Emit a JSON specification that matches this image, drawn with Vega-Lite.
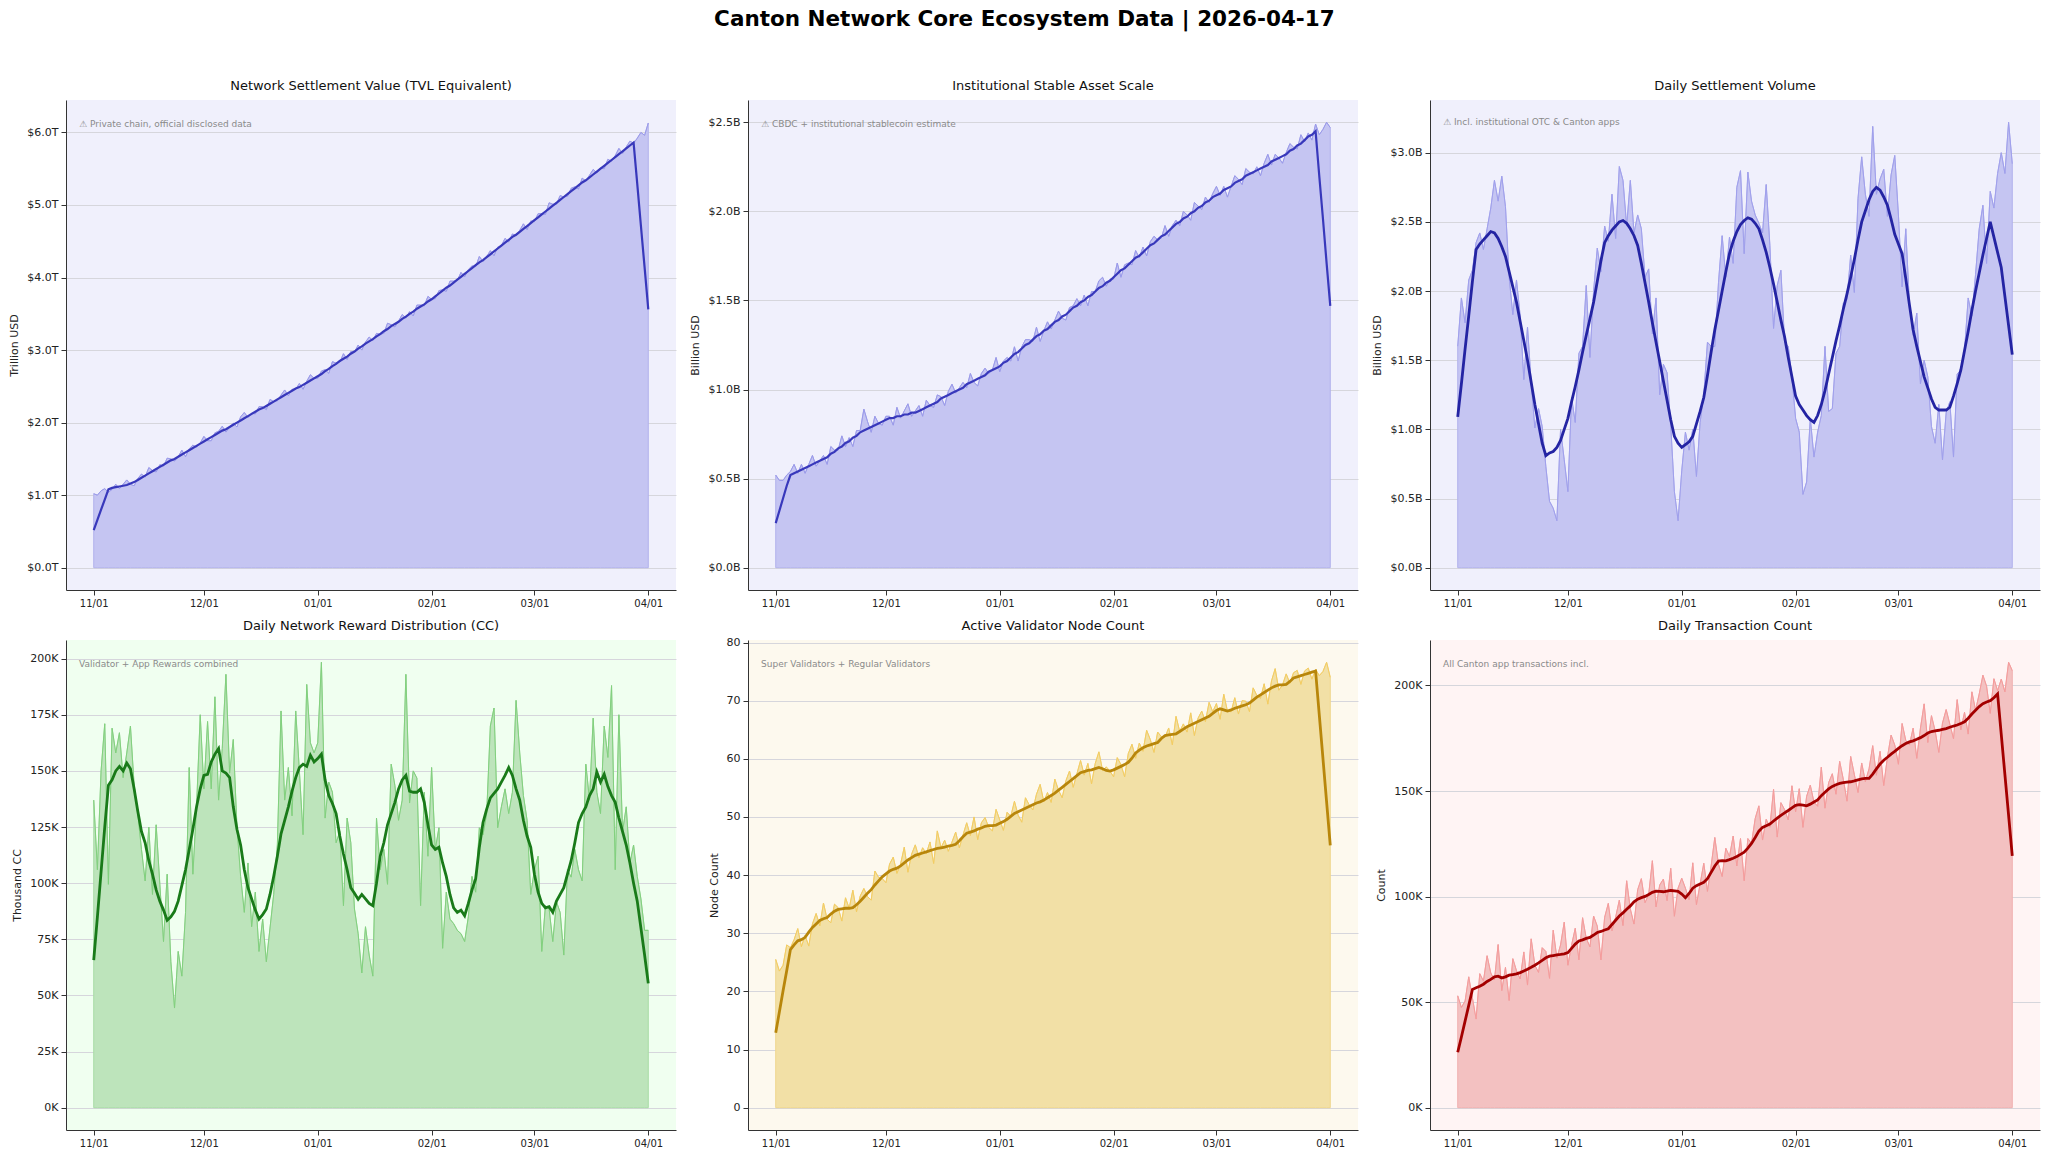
{
  "$schema": "https://vega.github.io/schema/vega-lite/v6.json",
  "background": "white",
  "padding": {"left": 8, "top": 8, "right": 4, "bottom": 5},
  "title": {"text": "Canton Network Core Ecosystem Data | 2026-04-17", "fontSize": 21.5, "fontWeight": "bold", "color": "#000", "offset": 50, "anchor": "middle"},
  "config": {
    "font": "DejaVu Sans",
    "view": {"stroke": null},
    "title": {"fontSize": 13, "fontWeight": "normal", "color": "#111", "offset": 7},
    "axis": {"labelFontSize": 11, "labelColor": "#222", "titleFontSize": 11, "titleFontWeight": "normal", "titleColor": "#222", "tickColor": "#333", "domainColor": "#333", "tickSize": 5, "labelPadding": 3},
    "axisY": {"grid": true, "gridColor": "#d6d6dc", "titlePadding": 7},
    "axisX": {"grid": false},
    "text": {"align": "left", "baseline": "middle", "fontSize": 9, "color": "#8a8a8a"}
  },
  "data": {"values": [
    {"d":"2025-11-01","tvl":1.02,"tvlm":0.52,"stb":0.52,"stbm":0.25,"vol":1.60,"volm":1.09,"rwd":137,"rwdm":65.7,"nod":25.5,"nodm":12.9,"tx":53,"txm":26.3},
    {"d":"2025-11-02","tvl":1.00,"tvlm":0.66,"stb":0.49,"stbm":0.32,"vol":1.95,"volm":1.33,"rwd":106,"rwdm":85,"nod":23.5,"nodm":16.5,"tx":47.5,"txm":33.5},
    {"d":"2025-11-03","tvl":1.06,"tvlm":0.80,"stb":0.49,"stbm":0.39,"vol":1.77,"volm":1.58,"rwd":150,"rwdm":105,"nod":24.5,"nodm":20.1,"tx":50.5,"txm":41},
    {"d":"2025-11-04","tvl":1.09,"tvlm":0.94,"stb":0.52,"stbm":0.46,"vol":2.08,"volm":1.82,"rwd":171,"rwdm":125,"nod":28.0,"nodm":23.6,"tx":62,"txm":48.5},
    {"d":"2025-11-05","tvl":1.04,"tvlm":1.08,"stb":0.54,"stbm":0.52,"vol":2.15,"volm":2.07,"rwd":99.5,"rwdm":143.6,"nod":27.5,"nodm":27.2,"tx":52,"txm":56},
    {"d":"2025-11-06","tvl":1.08,"tvlm":1.10,"stb":0.58,"stbm":0.53,"vol":2.35,"volm":2.30,"rwd":169,"rwdm":146,"nod":28.9,"nodm":28.0,"tx":42,"txm":56.8},
    {"d":"2025-11-07","tvl":1.15,"tvlm":1.11,"stb":0.53,"stbm":0.54,"vol":2.42,"volm":2.34,"rwd":158,"rwdm":150,"nod":30.8,"nodm":28.7,"tx":63.5,"txm":57.5},
    {"d":"2025-11-08","tvl":1.09,"tvlm":1.12,"stb":0.58,"stbm":0.55,"vol":2.30,"volm":2.37,"rwd":167,"rwdm":152,"nod":27.7,"nodm":28.9,"tx":60,"txm":58.5},
    {"d":"2025-11-09","tvl":1.15,"tvlm":1.13,"stb":0.53,"stbm":0.56,"vol":2.45,"volm":2.40,"rwd":147,"rwdm":150,"nod":29.6,"nodm":29.3,"tx":72,"txm":59.8},
    {"d":"2025-11-10","tvl":1.21,"tvlm":1.14,"stb":0.58,"stbm":0.57,"vol":2.60,"volm":2.43,"rwd":158,"rwdm":153.5,"nod":27.8,"nodm":30.2,"tx":63.8,"txm":60.8},
    {"d":"2025-11-11","tvl":1.15,"tvlm":1.16,"stb":0.63,"stbm":0.58,"vol":2.80,"volm":2.42,"rwd":170,"rwdm":151,"nod":31.6,"nodm":31.0,"tx":60.5,"txm":62.0},
    {"d":"2025-11-12","tvl":1.13,"tvlm":1.18,"stb":0.57,"stbm":0.59,"vol":2.65,"volm":2.38,"rwd":143.6,"rwdm":142,"nod":33.4,"nodm":31.6,"tx":77.3,"txm":62.3},
    {"d":"2025-11-13","tvl":1.23,"tvlm":1.21,"stb":0.60,"stbm":0.60,"vol":2.83,"volm":2.32,"rwd":131,"rwdm":132,"nod":31.3,"nodm":32.2,"tx":55.5,"txm":61.5},
    {"d":"2025-11-14","tvl":1.29,"tvlm":1.24,"stb":0.63,"stbm":0.61,"vol":2.61,"volm":2.25,"rwd":115,"rwdm":123,"nod":35.2,"nodm":32.5,"tx":66.5,"txm":62.0},
    {"d":"2025-11-15","tvl":1.25,"tvlm":1.27,"stb":0.58,"stbm":0.62,"vol":2.10,"volm":2.14,"rwd":101,"rwdm":118,"nod":32.4,"nodm":32.7,"tx":50.8,"txm":62.8},
    {"d":"2025-11-16","tvl":1.38,"tvlm":1.30,"stb":0.68,"stbm":0.64,"vol":1.83,"volm":2.03,"rwd":125,"rwdm":110,"nod":31.8,"nodm":33.3,"tx":70.6,"txm":63.1},
    {"d":"2025-11-17","tvl":1.34,"tvlm":1.33,"stb":0.66,"stbm":0.65,"vol":2.08,"volm":1.92,"rwd":95,"rwdm":104,"nod":35.0,"nodm":33.8,"tx":64.9,"txm":63.4},
    {"d":"2025-11-18","tvl":1.32,"tvlm":1.36,"stb":0.66,"stbm":0.67,"vol":1.82,"volm":1.78,"rwd":126,"rwdm":97,"nod":34.4,"nodm":34.1,"tx":61.0,"txm":64.0},
    {"d":"2025-11-19","tvl":1.42,"tvlm":1.39,"stb":0.74,"stbm":0.68,"vol":1.36,"volm":1.64,"rwd":99.5,"rwdm":92,"nod":32.1,"nodm":34.2,"tx":73.8,"txm":64.8},
    {"d":"2025-11-20","tvl":1.40,"tvlm":1.42,"stb":0.68,"stbm":0.70,"vol":1.74,"volm":1.50,"rwd":74,"rwdm":88,"nod":36.1,"nodm":34.3,"tx":58.1,"txm":65.6},
    {"d":"2025-11-21","tvl":1.51,"tvlm":1.45,"stb":0.73,"stbm":0.71,"vol":1.34,"volm":1.34,"rwd":104,"rwdm":83.5,"nod":34.3,"nodm":34.3,"tx":80.0,"txm":66.5},
    {"d":"2025-11-22","tvl":1.50,"tvlm":1.48,"stb":0.68,"stbm":0.73,"vol":1.01,"volm":1.18,"rwd":65,"rwdm":85,"nod":37.4,"nodm":34.4,"tx":67.5,"txm":67.5},
    {"d":"2025-11-23","tvl":1.47,"tvlm":1.50,"stb":0.77,"stbm":0.74,"vol":1.15,"volm":1.04,"rwd":44.4,"rwdm":87.5,"nod":33.7,"nodm":34.9,"tx":64.1,"txm":68.6},
    {"d":"2025-11-24","tvl":1.53,"tvlm":1.53,"stb":0.77,"stbm":0.76,"vol":1.02,"volm":0.90,"rwd":69.6,"rwdm":92,"nod":36.4,"nodm":35.5,"tx":75.8,"txm":69.8},
    {"d":"2025-11-25","tvl":1.62,"tvlm":1.56,"stb":0.89,"stbm":0.77,"vol":0.73,"volm":0.81,"rwd":58.6,"rwdm":99,"nod":37.7,"nodm":36.2,"tx":74.0,"txm":71.0},
    {"d":"2025-11-26","tvl":1.53,"tvlm":1.59,"stb":0.82,"stbm":0.78,"vol":0.48,"volm":0.83,"rwd":87,"rwdm":106,"nod":36.3,"nodm":36.9,"tx":61.3,"txm":71.8},
    {"d":"2025-11-27","tvl":1.64,"tvlm":1.62,"stb":0.76,"stbm":0.79,"vol":0.43,"volm":0.84,"rwd":151.5,"rwdm":115,"nod":35.7,"nodm":37.5,"tx":84.1,"txm":72.1},
    {"d":"2025-11-28","tvl":1.69,"tvlm":1.65,"stb":0.85,"stbm":0.80,"vol":0.34,"volm":0.87,"rwd":104,"rwdm":124,"nod":40.7,"nodm":38.3,"tx":70.9,"txm":72.4},
    {"d":"2025-11-29","tvl":1.66,"tvlm":1.68,"stb":0.81,"stbm":0.81,"vol":1.00,"volm":0.92,"rwd":134,"rwdm":134,"nod":39.6,"nodm":39.0,"tx":77.1,"txm":72.6},
    {"d":"2025-11-30","tvl":1.72,"tvlm":1.71,"stb":0.80,"stbm":0.82,"vol":0.78,"volm":1.00,"rwd":175,"rwdm":142,"nod":39.4,"nodm":39.7,"tx":87.9,"txm":72.9},
    {"d":"2025-12-01","tvl":1.81,"tvlm":1.74,"stb":0.85,"stbm":0.83,"vol":0.55,"volm":1.08,"rwd":142,"rwdm":148,"nod":38.7,"nodm":40.2,"tx":67.5,"txm":73.5},
    {"d":"2025-12-02","tvl":1.75,"tvlm":1.77,"stb":0.85,"stbm":0.84,"vol":1.23,"volm":1.20,"rwd":172,"rwdm":148.5,"nod":41.9,"nodm":40.7,"tx":77.0,"txm":75.5},
    {"d":"2025-12-03","tvl":1.75,"tvlm":1.80,"stb":0.80,"stbm":0.84,"vol":1.05,"volm":1.31,"rwd":142,"rwdm":154,"nod":43.1,"nodm":41.0,"tx":85.0,"txm":77.5},
    {"d":"2025-12-04","tvl":1.86,"tvlm":1.83,"stb":0.90,"stbm":0.85,"vol":1.55,"volm":1.43,"rwd":183,"rwdm":157.5,"nod":40.3,"nodm":41.2,"tx":70.0,"txm":79.0},
    {"d":"2025-12-05","tvl":1.88,"tvlm":1.86,"stb":0.84,"stbm":0.85,"vol":1.60,"volm":1.56,"rwd":137,"rwdm":160,"nod":41.9,"nodm":41.6,"tx":90.0,"txm":79.5},
    {"d":"2025-12-06","tvl":1.95,"tvlm":1.89,"stb":0.88,"stbm":0.86,"vol":2.04,"volm":1.68,"rwd":160,"rwdm":150,"nod":44.8,"nodm":42.1,"tx":80.2,"txm":80.2},
    {"d":"2025-12-07","tvl":1.87,"tvlm":1.91,"stb":0.92,"stbm":0.86,"vol":1.52,"volm":1.80,"rwd":193,"rwdm":149,"nod":40.5,"nodm":42.6,"tx":76.2,"txm":80.7},
    {"d":"2025-12-08","tvl":1.94,"tvlm":1.94,"stb":0.85,"stbm":0.87,"vol":2.00,"volm":1.92,"rwd":149,"rwdm":147,"nod":43.6,"nodm":43.0,"tx":90.8,"txm":81.8},
    {"d":"2025-12-09","tvl":1.99,"tvlm":1.97,"stb":0.88,"stbm":0.87,"vol":2.31,"volm":2.07,"rwd":164,"rwdm":134,"nod":45.2,"nodm":43.4,"tx":86.0,"txm":83.0},
    {"d":"2025-12-10","tvl":1.94,"tvlm":2.00,"stb":0.91,"stbm":0.88,"vol":2.14,"volm":2.22,"rwd":125,"rwdm":124,"nod":43.0,"nodm":43.6,"tx":70.0,"txm":83.5},
    {"d":"2025-12-11","tvl":2.08,"tvlm":2.03,"stb":0.85,"stbm":0.89,"vol":2.47,"volm":2.35,"rwd":103,"rwdm":117,"nod":44.7,"nodm":43.8,"tx":90.2,"txm":84.2},
    {"d":"2025-12-12","tvl":2.14,"tvlm":2.06,"stb":0.94,"stbm":0.90,"vol":2.36,"volm":2.40,"rwd":87,"rwdm":106,"nod":43.7,"nodm":44.0,"tx":96.8,"txm":84.8},
    {"d":"2025-12-13","tvl":2.07,"tvlm":2.09,"stb":0.91,"stbm":0.91,"vol":2.70,"volm":2.44,"rwd":109,"rwdm":98,"nod":45.7,"nodm":44.2,"tx":83.8,"txm":86.8},
    {"d":"2025-12-14","tvl":2.13,"tvlm":2.12,"stb":0.90,"stbm":0.92,"vol":2.38,"volm":2.47,"rwd":80.6,"rwdm":93,"nod":42.0,"nodm":44.4,"tx":90.3,"txm":88.8},
    {"d":"2025-12-15","tvl":2.12,"tvlm":2.15,"stb":0.97,"stbm":0.93,"vol":2.90,"volm":2.50,"rwd":96,"rwdm":88,"nod":47.6,"nodm":44.6,"tx":98.3,"txm":90.8},
    {"d":"2025-12-16","tvl":2.22,"tvlm":2.18,"stb":0.96,"stbm":0.95,"vol":2.80,"volm":2.51,"rwd":69.6,"rwdm":84,"nod":44.7,"nodm":44.7,"tx":86.3,"txm":92.3},
    {"d":"2025-12-17","tvl":2.22,"tvlm":2.20,"stb":0.91,"stbm":0.96,"vol":2.47,"volm":2.49,"rwd":84,"rwdm":86,"nod":46.0,"nodm":44.8,"tx":107.5,"txm":94.0},
    {"d":"2025-12-18","tvl":2.18,"tvlm":2.23,"stb":0.99,"stbm":0.97,"vol":2.80,"volm":2.45,"rwd":65,"rwdm":88.5,"nod":44.1,"nodm":45.0,"tx":94.1,"txm":95.6},
    {"d":"2025-12-19","tvl":2.32,"tvlm":2.26,"stb":1.03,"stbm":0.98,"vol":2.42,"volm":2.40,"rwd":80,"rwdm":95,"nod":45.7,"nodm":45.1,"tx":87.0,"txm":97.5},
    {"d":"2025-12-20","tvl":2.29,"tvlm":2.29,"stb":0.98,"stbm":0.99,"vol":2.55,"volm":2.33,"rwd":95,"rwdm":103,"nod":47.4,"nodm":45.3,"tx":103.3,"txm":98.8},
    {"d":"2025-12-21","tvl":2.30,"tvlm":2.32,"stb":1.01,"stbm":1.00,"vol":2.45,"volm":2.20,"rwd":117,"rwdm":112,"nod":44.7,"nodm":45.9,"tx":108.5,"txm":99.5},
    {"d":"2025-12-22","tvl":2.38,"tvlm":2.35,"stb":1.04,"stbm":1.01,"vol":2.10,"volm":2.06,"rwd":176.7,"rwdm":122,"nod":46.9,"nodm":46.6,"tx":97.1,"txm":100.1},
    {"d":"2025-12-23","tvl":2.45,"tvlm":2.38,"stb":1.01,"stbm":1.03,"vol":2.16,"volm":1.92,"rwd":137,"rwdm":128,"nod":49.0,"nodm":47.2,"tx":101.0,"txm":101.0},
    {"d":"2025-12-24","tvl":2.37,"tvlm":2.41,"stb":1.09,"stbm":1.04,"vol":1.69,"volm":1.77,"rwd":151.5,"rwdm":134,"nod":46.8,"nodm":47.4,"tx":117.0,"txm":102.0},
    {"d":"2025-12-25","tvl":2.46,"tvlm":2.44,"stb":1.04,"stbm":1.05,"vol":1.95,"volm":1.63,"rwd":130,"rwdm":141,"nod":50.0,"nodm":47.6,"tx":95.1,"txm":102.6},
    {"d":"2025-12-26","tvl":2.46,"tvlm":2.47,"stb":1.02,"stbm":1.06,"vol":1.25,"volm":1.49,"rwd":176.7,"rwdm":147,"nod":46.1,"nodm":47.9,"tx":105.5,"txm":102.5},
    {"d":"2025-12-27","tvl":2.54,"tvlm":2.49,"stb":1.09,"stbm":1.07,"vol":1.47,"volm":1.35,"rwd":150,"rwdm":151.5,"nod":49.0,"nodm":48.1,"tx":108.3,"txm":102.3},
    {"d":"2025-12-28","tvl":2.46,"tvlm":2.52,"stb":1.12,"stbm":1.08,"vol":1.41,"volm":1.21,"rwd":121.6,"rwdm":153,"nod":49.9,"nodm":48.4,"tx":98.1,"txm":102.6},
    {"d":"2025-12-29","tvl":2.57,"tvlm":2.55,"stb":1.09,"stbm":1.10,"vol":1.03,"volm":1.07,"rwd":188.5,"rwdm":152,"nod":48.2,"nodm":48.5,"tx":113.4,"txm":102.9},
    {"d":"2025-12-30","tvl":2.66,"tvlm":2.58,"stb":1.11,"stbm":1.11,"vol":0.55,"volm":0.95,"rwd":162.5,"rwdm":157,"nod":47.6,"nodm":48.5,"tx":90.7,"txm":102.7},
    {"d":"2025-12-31","tvl":2.61,"tvlm":2.61,"stb":1.18,"stbm":1.12,"vol":0.34,"volm":0.90,"rwd":158,"rwdm":154,"nod":51.3,"nodm":48.6,"tx":104.0,"txm":102.5},
    {"d":"2026-01-01","tvl":2.61,"tvlm":2.64,"stb":1.10,"stbm":1.13,"vol":0.70,"volm":0.87,"rwd":162.5,"rwdm":155.5,"nod":49.5,"nodm":48.9,"tx":108.7,"txm":101.2},
    {"d":"2026-01-02","tvl":2.71,"tvlm":2.67,"stb":1.16,"stbm":1.15,"vol":0.98,"volm":0.89,"rwd":198.4,"rwdm":157.5,"nod":47.7,"nodm":49.2,"tx":104.0,"txm":99.5},
    {"d":"2026-01-03","tvl":2.73,"tvlm":2.71,"stb":1.18,"stbm":1.16,"vol":0.85,"volm":0.91,"rwd":129,"rwdm":146,"nod":50.8,"nodm":49.6,"tx":98.5,"txm":101.5},
    {"d":"2026-01-04","tvl":2.68,"tvlm":2.74,"stb":1.16,"stbm":1.18,"vol":1.00,"volm":0.95,"rwd":145,"rwdm":139,"nod":50.1,"nodm":50.1,"tx":116.0,"txm":104.0},
    {"d":"2026-01-05","tvl":2.84,"tvlm":2.78,"stb":1.24,"stbm":1.20,"vol":0.66,"volm":1.04,"rwd":140.5,"rwdm":135.5,"nod":52.7,"nodm":50.6,"tx":96.2,"txm":105.2},
    {"d":"2026-01-06","tvl":2.82,"tvlm":2.81,"stb":1.16,"stbm":1.21,"vol":1.05,"volm":1.13,"rwd":118,"rwdm":131,"nod":50.3,"nodm":50.9,"tx":106.0,"txm":106.0},
    {"d":"2026-01-07","tvl":2.83,"tvlm":2.85,"stb":1.24,"stbm":1.23,"vol":1.25,"volm":1.23,"rwd":123,"rwdm":121,"nod":49.1,"nodm":51.2,"tx":115.8,"txm":106.8},
    {"d":"2026-01-08","tvl":2.95,"tvlm":2.88,"stb":1.28,"stbm":1.25,"vol":1.63,"volm":1.39,"rwd":90,"rwdm":113,"nod":53.3,"nodm":51.5,"tx":102.5,"txm":108.5},
    {"d":"2026-01-09","tvl":2.87,"tvlm":2.91,"stb":1.28,"stbm":1.26,"vol":1.60,"volm":1.56,"rwd":129,"rwdm":106,"nod":52.1,"nodm":51.8,"tx":114.5,"txm":111.5},
    {"d":"2026-01-10","tvl":2.98,"tvlm":2.95,"stb":1.27,"stbm":1.28,"vol":1.60,"volm":1.72,"rwd":118,"rwdm":98,"nod":51.2,"nodm":52.1,"tx":128.0,"txm":114.5},
    {"d":"2026-01-11","tvl":2.97,"tvlm":2.98,"stb":1.35,"stbm":1.30,"vol":2.06,"volm":1.86,"rwd":88.5,"rwdm":95.5,"nod":53.9,"nodm":52.4,"tx":115.3,"txm":116.8},
    {"d":"2026-01-12","tvl":3.07,"tvlm":3.02,"stb":1.27,"stbm":1.31,"vol":2.40,"volm":2.00,"rwd":77.5,"rwdm":92.8,"nod":55.6,"nodm":52.6,"tx":109.5,"txm":117.0},
    {"d":"2026-01-13","tvl":3.00,"tvlm":3.05,"stb":1.33,"stbm":1.33,"vol":2.10,"volm":2.14,"rwd":60,"rwdm":95,"nod":52.6,"nodm":52.9,"tx":122.9,"txm":116.9},
    {"d":"2026-01-14","tvl":3.11,"tvlm":3.09,"stb":1.38,"stbm":1.34,"vol":2.39,"volm":2.27,"rwd":80.6,"rwdm":93,"nod":54.2,"nodm":53.3,"tx":119.0,"txm":117.5},
    {"d":"2026-01-15","tvl":3.18,"tvlm":3.12,"stb":1.34,"stbm":1.36,"vol":2.20,"volm":2.36,"rwd":68,"rwdm":91,"nod":52.5,"nodm":53.7,"tx":128.7,"txm":118.2},
    {"d":"2026-01-16","tvl":3.13,"tvlm":3.15,"stb":1.39,"stbm":1.38,"vol":2.75,"volm":2.43,"rwd":58.6,"rwdm":90,"nod":56.5,"nodm":54.1,"tx":114.5,"txm":119.0},
    {"d":"2026-01-17","tvl":3.23,"tvlm":3.19,"stb":1.44,"stbm":1.39,"vol":2.87,"volm":2.48,"rwd":129,"rwdm":100,"nod":54.6,"nodm":54.6,"tx":127.5,"txm":120.0},
    {"d":"2026-01-18","tvl":3.22,"tvlm":3.22,"stb":1.40,"stbm":1.41,"vol":2.27,"volm":2.51,"rwd":106,"rwdm":112,"nod":53.3,"nodm":55.1,"tx":107.5,"txm":121.0},
    {"d":"2026-01-19","tvl":3.23,"tvlm":3.26,"stb":1.39,"stbm":1.42,"vol":2.86,"volm":2.53,"rwd":115,"rwdm":118,"nod":56.2,"nodm":55.6,"tx":127.5,"txm":123.0},
    {"d":"2026-01-20","tvl":3.37,"tvlm":3.29,"stb":1.46,"stbm":1.44,"vol":2.65,"volm":2.52,"rwd":99.5,"rwdm":126,"nod":57.9,"nodm":56.1,"tx":125.2,"txm":125.2},
    {"d":"2026-01-21","tvl":3.35,"tvlm":3.33,"stb":1.47,"stbm":1.46,"vol":2.55,"volm":2.49,"rwd":153,"rwdm":131,"nod":55.1,"nodm":56.6,"tx":137.0,"txm":128.0},
    {"d":"2026-01-22","tvl":3.32,"tvlm":3.36,"stb":1.51,"stbm":1.47,"vol":2.49,"volm":2.45,"rwd":143.6,"rwdm":136,"nod":57.4,"nodm":57.1,"tx":143.0,"txm":131.0},
    {"d":"2026-01-23","tvl":3.40,"tvlm":3.39,"stb":1.47,"stbm":1.49,"vol":2.42,"volm":2.37,"rwd":128,"rwdm":142,"nod":59.7,"nodm":57.6,"tx":126.8,"txm":132.8},
    {"d":"2026-01-24","tvl":3.49,"tvlm":3.43,"stb":1.53,"stbm":1.50,"vol":2.77,"volm":2.28,"rwd":137,"rwdm":146,"nod":57.2,"nodm":57.8,"tx":136.6,"txm":133.6},
    {"d":"2026-01-25","tvl":3.44,"tvlm":3.46,"stb":1.47,"stbm":1.52,"vol":2.33,"volm":2.17,"rwd":193,"rwdm":148,"nod":59.2,"nodm":58.0,"tx":132.9,"txm":134.4},
    {"d":"2026-01-26","tvl":3.53,"tvlm":3.50,"stb":1.55,"stbm":1.53,"vol":1.73,"volm":2.05,"rwd":135.7,"rwdm":141,"nod":55.7,"nodm":58.1,"tx":150.8,"txm":135.8},
    {"d":"2026-01-27","tvl":3.47,"tvlm":3.53,"stb":1.55,"stbm":1.55,"vol":2.04,"volm":1.92,"rwd":150,"rwdm":140.5,"nod":59.2,"nodm":58.3,"tx":128.2,"txm":137.2},
    {"d":"2026-01-28","tvl":3.62,"tvlm":3.57,"stb":1.61,"stbm":1.57,"vol":2.15,"volm":1.79,"rwd":146.8,"rwdm":140.5,"nod":61.2,"nodm":58.5,"tx":144.5,"txm":138.5},
    {"d":"2026-01-29","tvl":3.62,"tvlm":3.60,"stb":1.63,"stbm":1.58,"vol":1.63,"volm":1.67,"rwd":90,"rwdm":142,"nod":58.0,"nodm":58.3,"tx":141.2,"txm":139.7},
    {"d":"2026-01-30","tvl":3.61,"tvlm":3.63,"stb":1.58,"stbm":1.60,"vol":1.60,"volm":1.52,"rwd":140.5,"rwdm":136,"nod":58.6,"nodm":58.0,"tx":136.3,"txm":140.8},
    {"d":"2026-01-31","tvl":3.74,"tvlm":3.67,"stb":1.62,"stbm":1.61,"vol":1.38,"volm":1.38,"rwd":112,"rwdm":126,"nod":57.9,"nodm":57.9,"tx":152.5,"txm":142.0},
    {"d":"2026-02-01","tvl":3.70,"tvlm":3.70,"stb":1.62,"stbm":1.63,"vol":1.08,"volm":1.24,"rwd":151.5,"rwdm":117,"nod":56.9,"nodm":58.1,"tx":140.2,"txm":143.2},
    {"d":"2026-02-02","tvl":3.71,"tvlm":3.74,"stb":1.71,"stbm":1.65,"vol":0.98,"volm":1.18,"rwd":115,"rwdm":115,"nod":60.2,"nodm":58.4,"tx":151.1,"txm":143.6},
    {"d":"2026-02-03","tvl":3.82,"tvlm":3.78,"stb":1.63,"stbm":1.67,"vol":0.53,"volm":1.14,"rwd":124.7,"rwdm":116,"nod":59.0,"nodm":58.7,"tx":132.8,"txm":143.3},
    {"d":"2026-02-04","tvl":3.83,"tvlm":3.82,"stb":1.70,"stbm":1.68,"vol":0.62,"volm":1.10,"rwd":71,"rwdm":109,"nod":56.9,"nodm":59.0,"tx":147.5,"txm":143.0},
    {"d":"2026-02-05","tvl":3.81,"tvlm":3.86,"stb":1.71,"stbm":1.70,"vol":1.08,"volm":1.07,"rwd":96,"rwdm":103,"nod":60.9,"nodm":59.4,"tx":152.8,"txm":143.8},
    {"d":"2026-02-06","tvl":3.95,"tvlm":3.89,"stb":1.70,"stbm":1.72,"vol":0.80,"volm":1.05,"rwd":84,"rwdm":95,"nod":62.5,"nodm":60.1,"tx":144.8,"txm":144.8},
    {"d":"2026-02-07","tvl":3.95,"tvlm":3.93,"stb":1.78,"stbm":1.74,"vol":0.98,"volm":1.10,"rwd":82,"rwdm":89,"nod":60.1,"nodm":61.0,"tx":142.8,"txm":145.8},
    {"d":"2026-02-08","tvl":3.96,"tvlm":3.97,"stb":1.74,"stbm":1.75,"vol":1.10,"volm":1.18,"rwd":79,"rwdm":87,"nod":62.7,"nodm":61.5,"tx":161.3,"txm":147.8},
    {"d":"2026-02-09","tvl":4.07,"tvlm":4.01,"stb":1.80,"stbm":1.77,"vol":1.60,"volm":1.28,"rwd":77.5,"rwdm":88,"nod":61.3,"nodm":61.9,"tx":141.9,"txm":149.4},
    {"d":"2026-02-10","tvl":4.01,"tvlm":4.05,"stb":1.75,"stbm":1.79,"vol":1.13,"volm":1.40,"rwd":74,"rwdm":85.5,"nod":64.9,"nodm":62.2,"tx":154.0,"txm":151.0},
    {"d":"2026-02-11","tvl":4.11,"tvlm":4.09,"stb":1.83,"stbm":1.81,"vol":1.15,"volm":1.52,"rwd":85,"rwdm":91,"nod":63.3,"nodm":62.4,"tx":158.2,"txm":152.2},
    {"d":"2026-02-12","tvl":4.16,"tvlm":4.13,"stb":1.86,"stbm":1.82,"vol":1.55,"volm":1.64,"rwd":103,"rwdm":97,"nod":61.1,"nodm":62.6,"tx":148.5,"txm":153.0},
    {"d":"2026-02-13","tvl":4.15,"tvlm":4.17,"stb":1.84,"stbm":1.84,"vol":1.60,"volm":1.75,"rwd":96,"rwdm":102,"nod":64.6,"nodm":62.8,"tx":164.1,"txm":153.6},
    {"d":"2026-02-14","tvl":4.29,"tvlm":4.21,"stb":1.85,"stbm":1.86,"vol":1.91,"volm":1.87,"rwd":124.7,"rwdm":116,"nod":63.8,"nodm":63.5,"tx":155.5,"txm":154.0},
    {"d":"2026-02-15","tvl":4.22,"tvlm":4.24,"stb":1.92,"stbm":1.87,"vol":1.94,"volm":1.98,"rwd":121.6,"rwdm":127,"nod":63.7,"nodm":64.0,"tx":145.2,"txm":154.2},
    {"d":"2026-02-16","tvl":4.29,"tvlm":4.28,"stb":1.86,"stbm":1.89,"vol":2.26,"volm":2.10,"rwd":131,"rwdm":133,"nod":65.3,"nodm":64.1,"tx":166.4,"txm":154.4},
    {"d":"2026-02-17","tvl":4.37,"tvlm":4.32,"stb":1.92,"stbm":1.91,"vol":1.99,"volm":2.23,"rwd":170,"rwdm":138,"nod":62.4,"nodm":64.2,"tx":157.8,"txm":154.8},
    {"d":"2026-02-18","tvl":4.30,"tvlm":4.36,"stb":1.95,"stbm":1.93,"vol":2.67,"volm":2.37,"rwd":178,"rwdm":140,"nod":67.3,"nodm":64.3,"tx":149.3,"txm":155.3},
    {"d":"2026-02-19","tvl":4.42,"tvlm":4.40,"stb":1.92,"stbm":1.94,"vol":2.97,"volm":2.50,"rwd":124.7,"rwdm":142,"nod":64.7,"nodm":64.7,"tx":163.3,"txm":155.8},
    {"d":"2026-02-20","tvl":4.44,"tvlm":4.44,"stb":2.00,"stbm":1.96,"vol":2.70,"volm":2.58,"rwd":134,"rwdm":145,"nod":66.0,"nodm":65.1,"tx":154.5,"txm":156.0},
    {"d":"2026-02-21","tvl":4.54,"tvlm":4.48,"stb":1.98,"stbm":1.97,"vol":2.54,"volm":2.66,"rwd":142,"rwdm":148,"nod":64.6,"nodm":65.5,"tx":160.5,"txm":156.0},
    {"d":"2026-02-22","tvl":4.49,"tvlm":4.52,"stb":1.95,"stbm":1.99,"vol":3.19,"volm":2.72,"rwd":131,"rwdm":151.5,"nod":67.9,"nodm":65.8,"tx":171.5,"txm":158.0},
    {"d":"2026-02-23","tvl":4.60,"tvlm":4.56,"stb":2.05,"stbm":2.00,"vol":2.70,"volm":2.75,"rwd":140.5,"rwdm":148,"nod":64.0,"nodm":66.1,"tx":157.5,"txm":160.5},
    {"d":"2026-02-24","tvl":4.58,"tvlm":4.59,"stb":2.03,"stbm":2.02,"vol":2.81,"volm":2.73,"rwd":181.4,"rwdm":142,"nod":67.0,"nodm":66.4,"tx":168.8,"txm":162.8},
    {"d":"2026-02-25","tvl":4.65,"tvlm":4.63,"stb":2.01,"stbm":2.03,"vol":2.88,"volm":2.68,"rwd":158,"rwdm":137,"nod":68.2,"nodm":66.7,"tx":152.6,"txm":164.6},
    {"d":"2026-02-26","tvl":4.74,"tvlm":4.67,"stb":2.08,"stbm":2.05,"vol":2.54,"volm":2.62,"rwd":139,"rwdm":128,"nod":66.4,"nodm":67.0,"tx":166.0,"txm":166.0},
    {"d":"2026-02-27","tvl":4.66,"tvlm":4.71,"stb":2.05,"stbm":2.06,"vol":2.84,"volm":2.52,"rwd":128,"rwdm":121,"nod":69.7,"nodm":67.3,"tx":176.5,"txm":167.5},
    {"d":"2026-02-28","tvl":4.78,"tvlm":4.75,"stb":2.10,"stbm":2.08,"vol":2.98,"volm":2.41,"rwd":95,"rwdm":116,"nod":68.1,"nodm":67.8,"tx":171.8,"txm":168.8},
    {"d":"2026-03-01","tvl":4.77,"tvlm":4.79,"stb":2.14,"stbm":2.09,"vol":2.55,"volm":2.34,"rwd":106,"rwdm":104,"nod":69.5,"nodm":68.3,"tx":162.7,"txm":170.2},
    {"d":"2026-03-02","tvl":4.88,"tvlm":4.83,"stb":2.09,"stbm":2.10,"vol":2.03,"volm":2.27,"rwd":112,"rwdm":96,"nod":66.8,"nodm":68.6,"tx":182.0,"txm":171.5},
    {"d":"2026-03-03","tvl":4.88,"tvlm":4.87,"stb":2.14,"stbm":2.12,"vol":2.45,"volm":2.09,"rwd":69.6,"rwdm":91,"nod":71.1,"nodm":68.4,"tx":174.0,"txm":172.5},
    {"d":"2026-03-04","tvl":4.87,"tvlm":4.91,"stb":2.08,"stbm":2.13,"vol":1.90,"volm":1.90,"rwd":90,"rwdm":89,"nod":68.2,"nodm":68.2,"tx":171.8,"txm":173.3},
    {"d":"2026-03-05","tvl":5.03,"tvlm":4.95,"stb":2.14,"stbm":2.14,"vol":1.68,"volm":1.72,"rwd":88.5,"rwdm":89.5,"nod":68.1,"nodm":68.4,"tx":179.8,"txm":173.8},
    {"d":"2026-03-06","tvl":5.01,"tvlm":4.99,"stb":2.20,"stbm":2.16,"vol":1.84,"volm":1.60,"rwd":74,"rwdm":87,"nod":70.5,"nodm":68.7,"tx":165.5,"txm":174.5},
    {"d":"2026-03-07","tvl":5.01,"tvlm":5.03,"stb":2.18,"stbm":2.17,"vol":1.33,"volm":1.49,"rwd":91.7,"rwdm":92,"nod":67.7,"nodm":68.9,"tx":179.8,"txm":175.3},
    {"d":"2026-03-08","tvl":5.13,"tvlm":5.07,"stb":2.15,"stbm":2.18,"vol":1.50,"volm":1.38,"rwd":87,"rwdm":95,"nod":70.0,"nodm":69.1,"tx":191.3,"txm":176.3},
    {"d":"2026-03-09","tvl":5.11,"tvlm":5.11,"stb":2.24,"stbm":2.20,"vol":1.38,"volm":1.30,"rwd":68,"rwdm":98,"nod":69.9,"nodm":69.3,"tx":173.0,"txm":177.5},
    {"d":"2026-03-10","tvl":5.12,"tvlm":5.15,"stb":2.22,"stbm":2.21,"vol":1.02,"volm":1.22,"rwd":106,"rwdm":104,"nod":68.1,"nodm":69.6,"tx":185.7,"txm":178.2},
    {"d":"2026-03-11","tvl":5.23,"tvlm":5.19,"stb":2.21,"stbm":2.22,"vol":0.90,"volm":1.16,"rwd":102.7,"rwdm":110,"nod":72.2,"nodm":70.1,"tx":178.5,"txm":178.5},
    {"d":"2026-03-12","tvl":5.25,"tvlm":5.23,"stb":2.25,"stbm":2.23,"vol":1.18,"volm":1.14,"rwd":115,"rwdm":118,"nod":70.9,"nodm":70.6,"tx":168.3,"txm":178.8},
    {"d":"2026-03-13","tvl":5.22,"tvlm":5.27,"stb":2.20,"stbm":2.24,"vol":0.78,"volm":1.14,"rwd":106,"rwdm":127,"nod":70.4,"nodm":71.0,"tx":182.2,"txm":179.2},
    {"d":"2026-03-14","tvl":5.37,"tvlm":5.31,"stb":2.27,"stbm":2.25,"vol":1.12,"volm":1.14,"rwd":101,"rwdm":131,"nod":72.9,"nodm":71.4,"tx":188.6,"txm":179.6},
    {"d":"2026-03-15","tvl":5.33,"tvlm":5.34,"stb":2.32,"stbm":2.26,"vol":1.20,"volm":1.16,"rwd":153,"rwdm":134,"nod":69.4,"nodm":71.8,"tx":181.7,"txm":180.2},
    {"d":"2026-03-16","tvl":5.41,"tvlm":5.38,"stb":2.26,"stbm":2.28,"vol":0.80,"volm":1.24,"rwd":137,"rwdm":139,"nod":73.4,"nodm":72.2,"tx":174.8,"txm":180.8},
    {"d":"2026-03-17","tvl":5.49,"tvlm":5.42,"stb":2.32,"stbm":2.29,"vol":1.40,"volm":1.33,"rwd":173.5,"rwdm":142,"nod":75.5,"nodm":72.5,"tx":193.3,"txm":181.3},
    {"d":"2026-03-18","tvl":5.44,"tvlm":5.46,"stb":2.30,"stbm":2.30,"vol":1.43,"volm":1.43,"rwd":140.5,"rwdm":149.5,"nod":71.8,"nodm":72.7,"tx":179.0,"txm":182.0},
    {"d":"2026-03-19","tvl":5.51,"tvlm":5.50,"stb":2.27,"stbm":2.31,"vol":1.57,"volm":1.57,"rwd":131,"rwdm":145,"nod":72.7,"nodm":72.7,"tx":187.3,"txm":182.8},
    {"d":"2026-03-20","tvl":5.50,"tvlm":5.54,"stb":2.33,"stbm":2.32,"vol":1.95,"volm":1.71,"rwd":170,"rwdm":148.5,"nod":74.6,"nodm":72.8,"tx":177.0,"txm":184.5},
    {"d":"2026-03-21","tvl":5.63,"tvlm":5.58,"stb":2.38,"stbm":2.34,"vol":1.82,"volm":1.86,"rwd":156,"rwdm":143,"nod":73.0,"nodm":73.3,"tx":197.0,"txm":186.5},
    {"d":"2026-03-22","tvl":5.60,"tvlm":5.62,"stb":2.36,"stbm":2.35,"vol":2.12,"volm":2.00,"rwd":188,"rwdm":139,"nod":74.8,"nodm":73.9,"tx":188.3,"txm":188.3},
    {"d":"2026-03-23","tvl":5.68,"tvlm":5.66,"stb":2.35,"stbm":2.37,"vol":2.45,"volm":2.13,"rwd":106,"rwdm":136,"nod":75.2,"nodm":74.1,"tx":196.0,"txm":190.0},
    {"d":"2026-03-24","tvl":5.78,"tvlm":5.70,"stb":2.43,"stbm":2.38,"vol":2.62,"volm":2.26,"rwd":175,"rwdm":129,"nod":72.8,"nodm":74.3,"tx":204.9,"txm":191.4},
    {"d":"2026-03-25","tvl":5.71,"tvlm":5.74,"stb":2.39,"stbm":2.40,"vol":2.20,"volm":2.38,"rwd":123,"rwdm":123,"nod":75.1,"nodm":74.5,"tx":199.7,"txm":192.2},
    {"d":"2026-03-26","tvl":5.80,"tvlm":5.78,"stb":2.44,"stbm":2.42,"vol":2.72,"volm":2.50,"rwd":134,"rwdm":117,"nod":75.6,"nodm":74.7,"tx":186.8,"txm":192.8},
    {"d":"2026-03-27","tvl":5.88,"tvlm":5.82,"stb":2.40,"stbm":2.43,"vol":2.60,"volm":2.39,"rwd":109,"rwdm":109,"nod":73.7,"nodm":74.9,"tx":203.2,"txm":194.2},
    {"d":"2026-03-28","tvl":5.85,"tvlm":5.86,"stb":2.49,"stbm":2.45,"vol":2.85,"volm":2.28,"rwd":117,"rwdm":100,"nod":75.4,"nodm":75.1,"tx":197.5,"txm":196.0},
    {"d":"2026-03-29","tvl":5.92,"tvlm":5.29,"stb":2.43,"stbm":2.20,"vol":3.00,"volm":2.17,"rwd":103,"rwdm":92,"nod":74.3,"nodm":67.6,"tx":203,"txm":176.8},
    {"d":"2026-03-30","tvl":6.00,"tvlm":4.71,"stb":2.46,"stbm":1.96,"vol":2.85,"volm":1.96,"rwd":93,"rwdm":80,"nod":75.0,"nodm":60.1,"tx":197,"txm":157.7},
    {"d":"2026-03-31","tvl":5.96,"tvlm":4.14,"stb":2.50,"stbm":1.71,"vol":3.22,"volm":1.75,"rwd":79,"rwdm":68,"nod":76.6,"nodm":52.6,"tx":211,"txm":138.5},
    {"d":"2026-04-01","tvl":6.13,"tvlm":3.56,"stb":2.47,"stbm":1.47,"vol":2.92,"volm":1.54,"rwd":79,"rwdm":55.4,"nod":74.0,"nodm":45.1,"tx":207,"txm":119.3}
  ]},
  "columns": 3,
  "spacing": {"row": 50, "column": 72},
  "bounds": "flush",
  "concat": [
    {
      "width": 610, "height": 490,
      "view": {"fill": "#f0f0fc", "stroke": null},
      "title": "Network Settlement Value (TVL Equivalent)",
      "encoding": {"x": {"field": "d", "type": "temporal", "title": null, "scale": {"type": "utc", "domain": [{"year": 2025, "month": 10, "date": 24, "hours": 10, "minutes": 48, "utc": true}, {"year": 2026, "month": 4, "date": 8, "hours": 13, "minutes": 12, "utc": true}]}, "axis": {"values": [{"year": 2025, "month": 11, "date": 1, "utc": true}, {"year": 2025, "month": 12, "date": 1, "utc": true}, {"year": 2026, "month": 1, "date": 1, "utc": true}, {"year": 2026, "month": 2, "date": 1, "utc": true}, {"year": 2026, "month": 3, "date": 1, "utc": true}, {"year": 2026, "month": 4, "date": 1, "utc": true}], "format": "%m/%d", "labelFlush": false, "grid": false, "labelFontSize": 10}}},
      "layer": [
        {"mark": {"type": "area", "color": "#c5c5f2", "stroke": "#b2b2ec", "strokeWidth": 1}, "encoding": {"y": {"field": "tvl", "type": "quantitative", "title": "Trillion USD", "scale": {"domain": [-0.307, 6.447], "nice": false, "zero": false}, "axis": {"values": [0, 1, 2, 3, 4, 5, 6], "labelExpr": "'$' + format(datum.value, '.1f') + 'T'"}}, "y2": {"datum": 0}}},
        {"mark": {"type": "line", "color": "#9a9aea", "strokeWidth": 1}, "encoding": {"y": {"field": "tvl", "type": "quantitative", "title": "Trillion USD"}}},
        {"mark": {"type": "line", "color": "#3838bb", "strokeWidth": 2.2}, "encoding": {"y": {"field": "tvlm", "type": "quantitative", "title": "Trillion USD"}}},
        {"data": {"values": [{"d": "2025-10-28", "v": 6.123, "note": "⚠ Private chain, official disclosed data"}]}, "mark": {"type": "text"}, "encoding": {"y": {"field": "v", "type": "quantitative", "title": "Trillion USD"}, "text": {"field": "note"}}}
      ]
    },
    {
      "width": 610, "height": 490,
      "view": {"fill": "#f0f0fc", "stroke": null},
      "title": "Institutional Stable Asset Scale",
      "encoding": {"x": {"field": "d", "type": "temporal", "title": null, "scale": {"type": "utc", "domain": [{"year": 2025, "month": 10, "date": 24, "hours": 10, "minutes": 48, "utc": true}, {"year": 2026, "month": 4, "date": 8, "hours": 13, "minutes": 12, "utc": true}]}, "axis": {"values": [{"year": 2025, "month": 11, "date": 1, "utc": true}, {"year": 2025, "month": 12, "date": 1, "utc": true}, {"year": 2026, "month": 1, "date": 1, "utc": true}, {"year": 2026, "month": 2, "date": 1, "utc": true}, {"year": 2026, "month": 3, "date": 1, "utc": true}, {"year": 2026, "month": 4, "date": 1, "utc": true}], "format": "%m/%d", "labelFlush": false, "grid": false, "labelFontSize": 10}}},
      "layer": [
        {"mark": {"type": "area", "color": "#c5c5f2", "stroke": "#b2b2ec", "strokeWidth": 1}, "encoding": {"y": {"field": "stb", "type": "quantitative", "title": "Billion USD", "scale": {"domain": [-0.125, 2.625], "nice": false, "zero": false}, "axis": {"values": [0, 0.5, 1, 1.5, 2, 2.5], "labelExpr": "'$' + format(datum.value, '.1f') + 'B'"}}, "y2": {"datum": 0}}},
        {"mark": {"type": "line", "color": "#9a9aea", "strokeWidth": 1}, "encoding": {"y": {"field": "stb", "type": "quantitative", "title": "Billion USD"}}},
        {"mark": {"type": "line", "color": "#3838bb", "strokeWidth": 2.2}, "encoding": {"y": {"field": "stbm", "type": "quantitative", "title": "Billion USD"}}},
        {"data": {"values": [{"d": "2025-10-28", "v": 2.489, "note": "⚠ CBDC + institutional stablecoin estimate"}]}, "mark": {"type": "text"}, "encoding": {"y": {"field": "v", "type": "quantitative", "title": "Billion USD"}, "text": {"field": "note"}}}
      ]
    },
    {
      "width": 610, "height": 490,
      "view": {"fill": "#f0f0fc", "stroke": null},
      "title": "Daily Settlement Volume",
      "encoding": {"x": {"field": "d", "type": "temporal", "title": null, "scale": {"type": "utc", "domain": [{"year": 2025, "month": 10, "date": 24, "hours": 10, "minutes": 48, "utc": true}, {"year": 2026, "month": 4, "date": 8, "hours": 13, "minutes": 12, "utc": true}]}, "axis": {"values": [{"year": 2025, "month": 11, "date": 1, "utc": true}, {"year": 2025, "month": 12, "date": 1, "utc": true}, {"year": 2026, "month": 1, "date": 1, "utc": true}, {"year": 2026, "month": 2, "date": 1, "utc": true}, {"year": 2026, "month": 3, "date": 1, "utc": true}, {"year": 2026, "month": 4, "date": 1, "utc": true}], "format": "%m/%d", "labelFlush": false, "grid": false, "labelFontSize": 10}}},
      "layer": [
        {"mark": {"type": "area", "color": "#c5c5f2", "stroke": "#b2b2ec", "strokeWidth": 1}, "encoding": {"y": {"field": "vol", "type": "quantitative", "title": "Billion USD", "scale": {"domain": [-0.161, 3.381], "nice": false, "zero": false}, "axis": {"values": [0, 0.5, 1, 1.5, 2, 2.5, 3], "labelExpr": "'$' + format(datum.value, '.1f') + 'B'"}}, "y2": {"datum": 0}}},
        {"mark": {"type": "line", "color": "#a0a0ec", "strokeWidth": 1}, "encoding": {"y": {"field": "vol", "type": "quantitative", "title": "Billion USD"}}},
        {"mark": {"type": "line", "color": "#2424a3", "strokeWidth": 2.8}, "encoding": {"y": {"field": "volm", "type": "quantitative", "title": "Billion USD"}}},
        {"data": {"values": [{"d": "2025-10-28", "v": 3.219, "note": "⚠ Incl. institutional OTC & Canton apps"}]}, "mark": {"type": "text"}, "encoding": {"y": {"field": "v", "type": "quantitative", "title": "Billion USD"}, "text": {"field": "note"}}}
      ]
    },
    {
      "width": 610, "height": 490,
      "view": {"fill": "#f0fff0", "stroke": null},
      "title": "Daily Network Reward Distribution (CC)",
      "encoding": {"x": {"field": "d", "type": "temporal", "title": null, "scale": {"type": "utc", "domain": [{"year": 2025, "month": 10, "date": 24, "hours": 10, "minutes": 48, "utc": true}, {"year": 2026, "month": 4, "date": 8, "hours": 13, "minutes": 12, "utc": true}]}, "axis": {"values": [{"year": 2025, "month": 11, "date": 1, "utc": true}, {"year": 2025, "month": 12, "date": 1, "utc": true}, {"year": 2026, "month": 1, "date": 1, "utc": true}, {"year": 2026, "month": 2, "date": 1, "utc": true}, {"year": 2026, "month": 3, "date": 1, "utc": true}, {"year": 2026, "month": 4, "date": 1, "utc": true}], "format": "%m/%d", "labelFlush": false, "grid": false, "labelFontSize": 10}}},
      "layer": [
        {"mark": {"type": "area", "color": "#bde4bb", "stroke": "#a8dba6", "strokeWidth": 1}, "encoding": {"y": {"field": "rwd", "type": "quantitative", "title": "Thousand CC", "scale": {"domain": [-9.92, 208.3], "nice": false, "zero": false}, "axis": {"values": [0, 25, 50, 75, 100, 125, 150, 175, 200], "labelExpr": "format(datum.value, 'd') + 'K'"}}, "y2": {"datum": 0}}},
        {"mark": {"type": "line", "color": "#82d07e", "strokeWidth": 1}, "encoding": {"y": {"field": "rwd", "type": "quantitative", "title": "Thousand CC"}}},
        {"mark": {"type": "line", "color": "#197a19", "strokeWidth": 2.8}, "encoding": {"y": {"field": "rwdm", "type": "quantitative", "title": "Thousand CC"}}},
        {"data": {"values": [{"d": "2025-10-28", "v": 197.7, "note": "Validator + App Rewards combined"}]}, "mark": {"type": "text"}, "encoding": {"y": {"field": "v", "type": "quantitative", "title": "Thousand CC"}, "text": {"field": "note"}}}
      ]
    },
    {
      "width": 610, "height": 490,
      "view": {"fill": "#fdf9ee", "stroke": null},
      "title": {"text": "Active Validator Node Count", "offset": 4},
      "encoding": {"x": {"field": "d", "type": "temporal", "title": null, "scale": {"type": "utc", "domain": [{"year": 2025, "month": 10, "date": 24, "hours": 10, "minutes": 48, "utc": true}, {"year": 2026, "month": 4, "date": 8, "hours": 13, "minutes": 12, "utc": true}]}, "axis": {"values": [{"year": 2025, "month": 11, "date": 1, "utc": true}, {"year": 2025, "month": 12, "date": 1, "utc": true}, {"year": 2026, "month": 1, "date": 1, "utc": true}, {"year": 2026, "month": 2, "date": 1, "utc": true}, {"year": 2026, "month": 3, "date": 1, "utc": true}, {"year": 2026, "month": 4, "date": 1, "utc": true}], "format": "%m/%d", "labelFlush": false, "grid": false, "labelFontSize": 10}}},
      "layer": [
        {"mark": {"type": "area", "color": "#f2e0a6", "stroke": "#efd68c", "strokeWidth": 1}, "encoding": {"y": {"field": "nod", "type": "quantitative", "title": "Node Count", "scale": {"domain": [-3.83, 80.43], "nice": false, "zero": false}, "axis": {"values": [0, 10, 20, 30, 40, 50, 60, 70, 80]}}, "y2": {"datum": 0}}},
        {"mark": {"type": "line", "color": "#f4cd62", "strokeWidth": 1}, "encoding": {"y": {"field": "nod", "type": "quantitative", "title": "Node Count"}}},
        {"mark": {"type": "line", "color": "#b8860b", "strokeWidth": 2.8}, "encoding": {"y": {"field": "nodm", "type": "quantitative", "title": "Node Count"}}},
        {"data": {"values": [{"d": "2025-10-28", "v": 76.36, "note": "Super Validators + Regular Validators"}]}, "mark": {"type": "text"}, "encoding": {"y": {"field": "v", "type": "quantitative", "title": "Node Count"}, "text": {"field": "note"}}}
      ]
    },
    {
      "width": 610, "height": 490,
      "view": {"fill": "#fff4f4", "stroke": null},
      "title": "Daily Transaction Count",
      "encoding": {"x": {"field": "d", "type": "temporal", "title": null, "scale": {"type": "utc", "domain": [{"year": 2025, "month": 10, "date": 24, "hours": 10, "minutes": 48, "utc": true}, {"year": 2026, "month": 4, "date": 8, "hours": 13, "minutes": 12, "utc": true}]}, "axis": {"values": [{"year": 2025, "month": 11, "date": 1, "utc": true}, {"year": 2025, "month": 12, "date": 1, "utc": true}, {"year": 2026, "month": 1, "date": 1, "utc": true}, {"year": 2026, "month": 2, "date": 1, "utc": true}, {"year": 2026, "month": 3, "date": 1, "utc": true}, {"year": 2026, "month": 4, "date": 1, "utc": true}], "format": "%m/%d", "labelFlush": false, "grid": false, "labelFontSize": 10}}},
      "layer": [
        {"mark": {"type": "area", "color": "#f3c1c1", "stroke": "#f0b0b0", "strokeWidth": 1}, "encoding": {"y": {"field": "tx", "type": "quantitative", "title": "Count", "scale": {"domain": [-10.55, 221.55], "nice": false, "zero": false}, "axis": {"values": [0, 50, 100, 150, 200], "labelExpr": "format(datum.value, 'd') + 'K'"}}, "y2": {"datum": 0}}},
        {"mark": {"type": "line", "color": "#f59c9c", "strokeWidth": 1}, "encoding": {"y": {"field": "tx", "type": "quantitative", "title": "Count"}}},
        {"mark": {"type": "line", "color": "#a30000", "strokeWidth": 2.8}, "encoding": {"y": {"field": "txm", "type": "quantitative", "title": "Count"}}},
        {"data": {"values": [{"d": "2025-10-28", "v": 210.3, "note": "All Canton app transactions incl."}]}, "mark": {"type": "text"}, "encoding": {"y": {"field": "v", "type": "quantitative", "title": "Count"}, "text": {"field": "note"}}}
      ]
    }
  ]
}
